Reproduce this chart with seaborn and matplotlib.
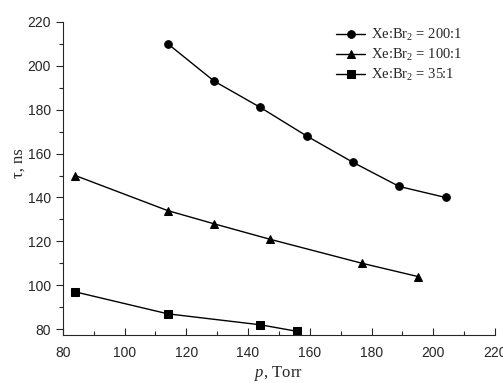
import matplotlib
matplotlib.use("Agg")
import matplotlib.pyplot as plt
import seaborn as sns
import pandas as pd
from matplotlib.ticker import MultipleLocator

p_200 = [114, 129, 144, 159, 174, 189, 204]
tau_200 = [210, 193, 181, 168, 156, 145, 140]
p_100 = [84, 114, 129, 147, 177, 195]
tau_100 = [150, 134, 128, 121, 110, 104]
p_35 = [84, 114, 144, 156]
tau_35 = [97, 87, 82, 79]
labels = ["Xe:Br$_2$ = 200:1", "Xe:Br$_2$ = 100:1", "Xe:Br$_2$ = 35:1"]
markers = ["o", "^", "s"]

sns.set_style("ticks")
plt.rcParams['font.family'] = ['Liberation Sans', 'DejaVu Sans']
plt.rcParams['mathtext.fontset'] = 'custom'
plt.rcParams['mathtext.rm'] = 'Liberation Serif'
plt.rcParams['mathtext.it'] = 'Liberation Serif:italic'

fig = plt.figure(figsize=(5.03, 3.83), dpi=100)
ax = fig.add_axes([0.125, 0.125, 0.859, 0.818])

series = [(p_200, tau_200), (p_100, tau_100), (p_35, tau_35)]
for (px, ty), lab, m in zip(series, labels, markers):
    df = pd.DataFrame({"p": px, "tau": ty})
    sns.lineplot(data=df, x="p", y="tau", ax=ax, color="black", lw=1.0,
                 marker=m, markersize=5.5, markeredgecolor="black",
                 label=lab, legend=False)

ax.set_xlim(80, 220)
ax.set_ylim(77.3, 220)
ax.xaxis.set_major_locator(MultipleLocator(20))
ax.xaxis.set_minor_locator(MultipleLocator(10))
ax.yaxis.set_major_locator(MultipleLocator(20))
ax.yaxis.set_minor_locator(MultipleLocator(10))
ax.tick_params(axis='x', which='major', direction='in', length=5, width=0.8, labelsize=10, pad=8)
ax.tick_params(axis='x', which='minor', direction='in', length=3, width=0.8)
ax.tick_params(axis='y', which='major', direction='out', length=5, width=0.8, labelsize=10)
ax.tick_params(axis='y', which='minor', direction='out', length=3, width=0.8)
for s in ['top', 'right']:
    ax.spines[s].set_visible(False)
for s in ['left', 'bottom']:
    ax.spines[s].set_linewidth(0.8)

ax.set_xlabel("$p$, Torr", fontsize=12, family=['Liberation Serif'])
ax.set_ylabel("τ, ns", fontsize=12, family=['Liberation Serif'])
ax.xaxis.set_label_coords(0.5, -0.093)
ax.yaxis.set_label_coords(-0.084, 0.55)

handles, labs = ax.get_legend_handles_labels()
ax.legend(handles, labs, loc='upper right', bbox_to_anchor=(0.955, 1.025), frameon=False,
          prop={'family': 'Liberation Serif', 'size': 10.5}, handlelength=2.0,
          labelspacing=0.25, handletextpad=0.4)

fig.savefig("out.png", dpi=100)
